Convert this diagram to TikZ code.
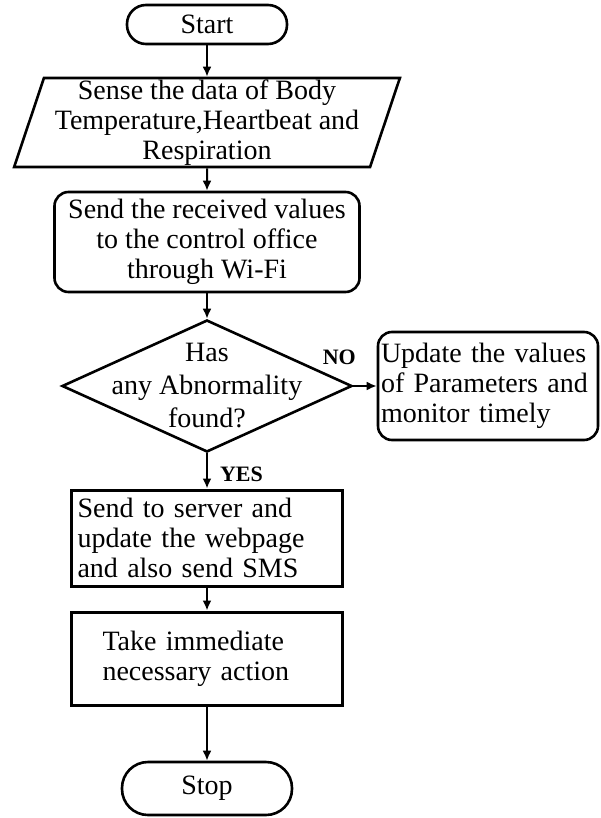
\documentclass[tikz,border=0pt]{standalone}
\usepackage{fontspec}
\setmainfont{Liberation Serif}
\usetikzlibrary{shapes.geometric,arrows.meta}

\begin{document}
\begin{tikzpicture}[x=1pt, y=-1pt, >={Latex[length=10pt,width=9pt]},
  every node/.style={font=\fontsize{28}{30}\selectfont, inner sep=0pt},
  termbox/.style={draw, line width=2.6pt, rectangle, rounded corners=#1},
  iobox/.style={draw, line width=2.6pt, trapezium, trapezium left angle=72,
    trapezium right angle=108, trapezium stretches=true, align=center},
  roundbox/.style={draw, line width=2.6pt, rectangle, rounded corners=14pt},
  decbox/.style={draw, line width=2.6pt, diamond, aspect=2.2, inner sep=-30pt,
    align=center, font=\fontsize{28}{33}\selectfont},
  procbox/.style={draw, line width=3pt, rectangle, align=left},
  flow/.style={->, line width=2pt},
  yesno/.style={font=\bfseries\fontsize{22}{24}\selectfont}]

% --- Рамка рисунка ---
\useasboundingbox (0,0) rectangle (601,818);

% --- Параметры ---
\def\xc{207}   % общая вертикаль блоков

% --- Блоки ---
\node[termbox=19pt, minimum width=160, minimum height=39] (start) at (\xc,24.5) {Start};
\node[iobox, minimum width=388, minimum height=89] (sense) at (\xc,122.5)
  {Sense the data of Body\\Temperature,Heartbeat and\\Respiration};
\node[roundbox, minimum width=305, minimum height=100, align=center] (send) at (\xc,242)
  {Send the received values\\to the control office\\through Wi-Fi};
\node[decbox, minimum width=290, minimum height=132] (abnorm) at (\xc,386)
  {Has\\any Abnormality\\found?};
\node[roundbox, minimum width=220, minimum height=108, text width=214, align=left,
  inner xsep=3pt] (update) at (488,386)
  {Update the values\\of Parameters and\\monitor timely};
\node[procbox, minimum width=271, minimum height=96, text width=259, inner xsep=6pt]
  (server) at (\xc,538)
  {Send to server and\\update the webpage\\and also send SMS};
\node[procbox, minimum width=271, minimum height=93, text width=209, inner xsep=31pt]
  (action) at (\xc,658.5)
  {Take immediate\\necessary action};
\node[termbox=26pt, minimum width=170, minimum height=53] (stop) at (\xc,788.5) {Stop};

% --- Стрелки ---
\draw[flow] (start) -- (sense);
\draw[flow] (sense) -- (send);
\draw[flow] (send) -- (abnorm);
\draw[flow] (abnorm.east) -- (update.west)
  node[yesno, pos=0, anchor=south, xshift=-14pt, yshift=20pt] {NO};
\draw[flow] (abnorm.south) -- (server.north)
  node[yesno, pos=0.6, right=12pt] {YES};
\draw[flow] (server) -- (action);
\draw[flow] (action) -- (stop);

\end{tikzpicture}
\end{document}
